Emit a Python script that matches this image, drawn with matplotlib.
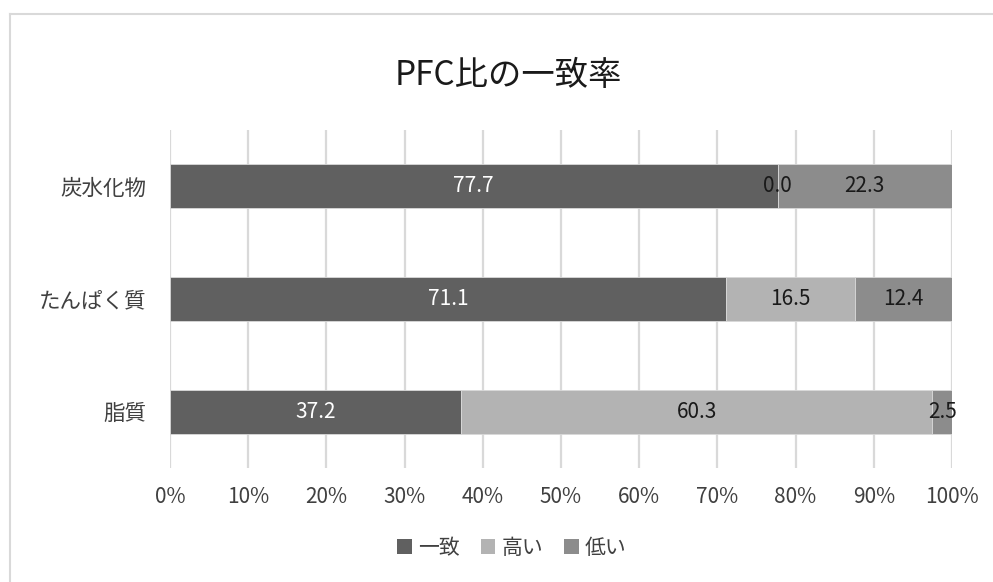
import matplotlib
matplotlib.use("Agg")
import matplotlib.pyplot as plt
from matplotlib.patches import Patch
from matplotlib.lines import Line2D
import numpy as np

plt.rcParams['font.family'] = ['Noto Sans CJK JP', 'DejaVu Sans']

title = "PFC比の一致率"
categories = ["炭水化物", "たんぱく質", "脂質"]
series_names = ["一致", "高い", "低い"]
match_vals = [77.7, 71.1, 37.2]
high_vals = [0.0, 16.5, 60.3]
low_vals = [22.3, 12.4, 2.5]
xtick_vals = list(range(0, 101, 10))
xtick_labels = [f"{v}%" for v in xtick_vals]

colors = ["#606060", "#b3b3b3", "#8c8c8c"]
label_colors = ["white", "#1a1a1a", "#1a1a1a"]

fig = plt.figure(figsize=(9.93, 5.82), dpi=100)
ax = fig.add_axes([170/993, 1-468/582, (952-170)/993, (468-130)/582])

y = np.arange(len(categories))
left = np.zeros(len(categories))
for vals, c, lc, name in zip([match_vals, high_vals, low_vals], colors, label_colors, series_names):
    vals = np.array(vals)
    ax.barh(y, vals, left=left, height=0.39, color=c, label=name, zorder=3,
            edgecolor="#d9d9d9", linewidth=0.6)
    for yi, (l, v) in enumerate(zip(left, vals)):
        ax.text(l + v/2, yi, f"{v:.1f}", ha="center", va="center",
                color=lc, fontsize=15, zorder=4)
    left = left + vals

ax.set_ylim(len(categories)-0.5, -0.5)
ax.set_xlim(0, 100)
ax.set_yticks(y)
ax.set_yticklabels(categories, fontsize=15.5, color="#404040")
ax.set_xticks(xtick_vals)
ax.set_xticklabels(xtick_labels, fontsize=15, color="#404040")
ax.tick_params(axis="y", length=0, pad=17)
ax.tick_params(axis="x", length=0, pad=13)
for s in ax.spines.values():
    s.set_visible(False)
ax.grid(axis="x", color="#d9d9d9", linewidth=1.6, zorder=0)
ax.set_axisbelow(True)

fig.text(508/993, 1-75/582, title, ha="center", va="center", fontsize=24, color="#1a1a1a")

handles = [Patch(facecolor=c, edgecolor="none") for c in colors]
fig.legend(handles, series_names, loc="center", bbox_to_anchor=(512/993, 1-548/582),
           ncol=3, frameon=False, fontsize=15, handlelength=0.7, handleheight=0.7,
           handletextpad=0.3, columnspacing=1.0, labelcolor="#404040")

fig.add_artist(Line2D([10/993, 10/993], [0, 1-14/582], color="#d9d9d9", linewidth=1.5))
fig.add_artist(Line2D([10/993, 1], [1-14/582, 1-14/582], color="#d9d9d9", linewidth=1.5))

fig.savefig("out.png", dpi=100)
